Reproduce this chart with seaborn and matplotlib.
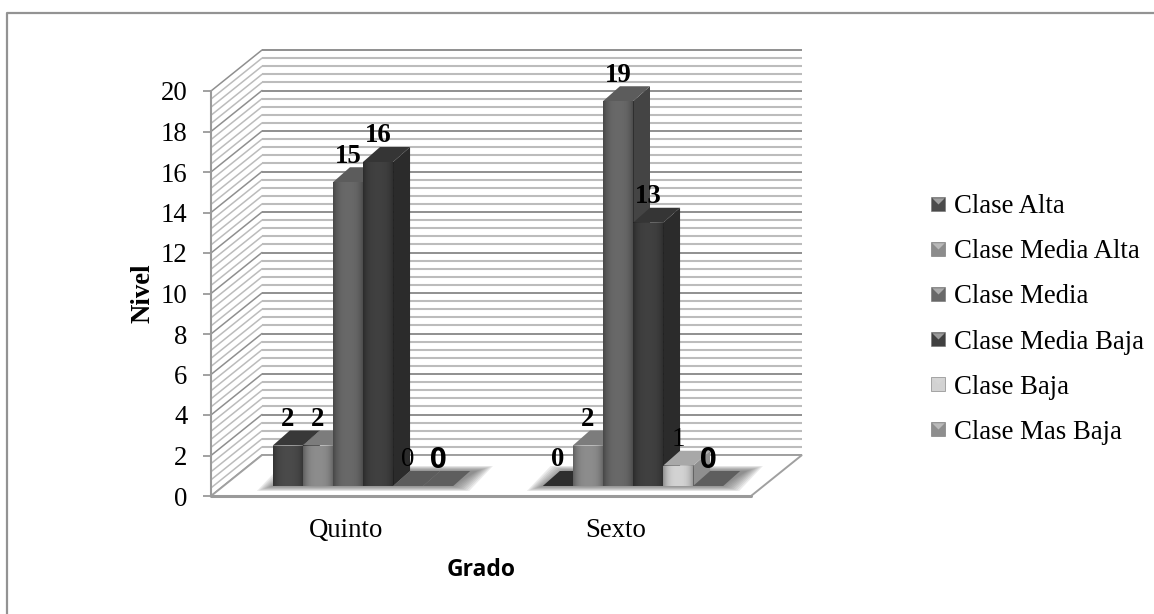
import numpy as np
import pandas as pd
import seaborn as sns
import matplotlib
matplotlib.use("Agg")
import matplotlib.pyplot as plt
from matplotlib.lines import Line2D
from matplotlib.legend_handler import HandlerTuple
from matplotlib.patches import Polygon

grades = ["Quinto", "Sexto"]
classes = ["Clase Alta", "Clase Media Alta", "Clase Media",
           "Clase Media Baja", "Clase Baja", "Clase Mas Baja"]
quinto = [2, 2, 15, 16, 0, 0]
sexto = [0, 2, 19, 13, 1, 0]
y_ticks = list(range(0, 21, 2))

front_colors = ["#4a4a4a", "#8c8c8c", "#686868", "#404040", "#d2d2d2", "#8e8e8e"]
top_colors = ["#383838", "#7c7c7c", "#5c5c5c", "#353535", "#a8a8a8", "#5e5e5e"]
side_colors = ["#333333", "#6e6e6e", "#444444", "#2b2b2b", "#8f8f8f", "#6a6a6a"]
empty_top_colors = ["#2e2e2e", "#7c7c7c", "#5c5c5c", "#353535", "#5c5c5c", "#5e5e5e"]

W, H = 1154, 614
SERIF = "Liberation Serif"
SANS = "Open Sans"
TEXT_SIZE = 19.3

sns.set_theme(style="white")
plt.rcParams["font.family"] = [SERIF, "DejaVu Sans"]

fig = plt.figure(figsize=(W / 100, H / 100), dpi=100)


def rect_from_pixels(left, right, top, bottom):
    return [left / W, 1 - bottom / H, (right - left) / W, (bottom - top) / H]


# Chart border: only the top and left edges are ruled
fig.add_artist(Line2D([6.5 / W, 6.5 / W, 1], [0, 1 - 12.5 / H, 1 - 12.5 / H],
                      transform=fig.transFigure, color="#939393", lw=1.6))

# Front plane of the box: carries the value axis and grade labels
F_L, F_R, F_T, F_B = 211, 751, 91, 496
frame = fig.add_axes(rect_from_pixels(F_L, F_R, F_T, F_B))
frame.set_xlim(-0.5, 1.5)
frame.set_ylim(0, 20)
px_x = 2 / (F_R - F_L)
px_y = 20 / (F_B - F_T)
wall_dx, wall_dy = 51 * px_x, 41 * px_y

# Back wall and side wall rules, every fifth one heavier
steps = np.arange(0, 20.01, 0.4)
for i, v in enumerate(steps):
    major = i % 5 == 0
    col = "#8f8f8f" if major else "#bcbcbc"
    lw = 1.4 if major else 1.5
    frame.plot([-0.5 + wall_dx, 1.5 + wall_dx], [v + wall_dy] * 2, color=col,
               lw=lw, clip_on=False, zorder=1, solid_capstyle="butt")
    frame.plot([-0.5, -0.5 + wall_dx], [v, v + wall_dy], color=col,
               lw=1.1, clip_on=False, zorder=1)

# Floor of the box
frame.add_patch(Polygon([(-0.5, 0), (1.5, 0), (1.5 + wall_dx, wall_dy),
                         (-0.5 + wall_dx, wall_dy)], closed=True, fc="white",
                        ec="#a0a0a0", lw=1.4, clip_on=False, zorder=2))
frame.plot([-0.5, 1.5], [0, 0], color="#9a9a9a", lw=2.2, clip_on=False, zorder=3)

frame.set_xticks([0, 1], grades)
frame.set_yticks(y_ticks)
frame.patch.set_alpha(0)
for side in ("top", "right", "bottom"):
    frame.spines[side].set_visible(False)
frame.spines["left"].set_color("#9a9a9a")
frame.spines["left"].set_linewidth(1.5)
frame.spines["left"].set_zorder(4)
frame.tick_params(axis="y", left=True, length=6, width=1.3, color="#9a9a9a",
                  labelsize=TEXT_SIZE, pad=11, labelcolor="black")
frame.tick_params(axis="x", bottom=False, labelsize=TEXT_SIZE, pad=10, labelcolor="black")
frame.set_ylabel("Nivel", fontsize=TEXT_SIZE, fontweight="bold", color="black", labelpad=4)
frame.set_xlabel("Grado", fontsize=16.5, fontweight="bold", color="black",
                 family=SANS, labelpad=11)

# Bars sit a little behind the front plane, so their axes is nudged up and right
shift_x, shift_y = 17, 10
ax = fig.add_axes(rect_from_pixels(F_L + shift_x, F_R + shift_x,
                                   F_T - shift_y, F_B - shift_y))
ax.patch.set_alpha(0)
table = pd.DataFrame({
    "Grado": np.repeat(grades, len(classes)),
    "Clase": classes * len(grades),
    "Nivel": quinto + sexto,
})
sns.barplot(data=table, x="Grado", y="Nivel", hue="Clase", hue_order=classes,
            order=grades, palette=dict(zip(classes, front_colors)), width=0.668,
            gap=0, errorbar=None, legend=False, saturation=1, ax=ax,
            linewidth=0)

depth_x, depth_y = 17 * px_x, 15 * px_y
edge_shade = np.zeros((1, 64, 4))
edge_shade[0, :, 3] = 0.32 * np.abs(np.linspace(-1, 1, 64)) ** 3

# Soft shadow on the floor below each group of bars
groups = [c.patches for c in ax.containers]
for cat in range(len(grades)):
    first = groups[0][cat]
    last = groups[-1][cat]
    x0, x1 = first.get_x(), last.get_x() + last.get_width()
    for grow in np.linspace(1, 0, 9):
        gx = grow * 16 * px_x
        gy = grow * 5 * px_y
        ax.add_patch(Polygon([(x0 - gx, -gy), (x1 + gx, -gy),
                              (x1 + depth_x * 1.4 + gx, depth_y + gy),
                              (x0 + depth_x * 1.4 - gx, depth_y + gy)],
                             closed=True, fc="#606060", ec="none", alpha=0.12,
                             clip_on=False, zorder=1))

# Side and top faces are drawn bar by bar, left to right, so nearer faces cover
for h, container in enumerate(ax.containers):
    for c, bar in enumerate(container.patches):
        x0, w, v = bar.get_x(), bar.get_width(), bar.get_height()
        z = 3 + (c * len(classes) + h) * 0.1
        bar.set_zorder(z + 0.02)
        x1 = x0 + w
        if v > 0:
            ax.add_patch(Polygon([(x1, 0), (x1 + depth_x, depth_y),
                                  (x1 + depth_x, v + depth_y), (x1, v)],
                                 closed=True, fc=side_colors[h], ec="none",
                                 clip_on=False, zorder=z))
        cap = top_colors[h] if v > 0 else empty_top_colors[h]
        ax.add_patch(Polygon([(x0, v), (x1, v), (x1 + depth_x, v + depth_y),
                              (x0 + depth_x, v + depth_y)], closed=True,
                             fc=cap, ec="none", clip_on=False, zorder=z + 0.01))
        if v > 0:
            ax.imshow(edge_shade, extent=(x0, x1, 0, v), aspect="auto",
                      zorder=z + 0.03, clip_on=False, interpolation="bilinear")

# Value labels above each bar; a few use a lighter or a sans face
label_styles = {
    (0, 4): dict(fontweight="normal"),
    (0, 5): dict(fontweight="bold", family=SANS, fontsize=21),
    (1, 4): dict(fontweight="normal"),
    (1, 5): dict(fontweight="bold", family=SANS, fontsize=21),
}
for h, container in enumerate(ax.containers):
    for c, bar in enumerate(container.patches):
        style = dict(fontsize=TEXT_SIZE, fontweight="bold")
        style.update(label_styles.get((c, h), {}))
        ax.text(bar.get_x() + bar.get_width() / 2, bar.get_height() + 26 * px_y,
                str(int(bar.get_height())), ha="center", va="center", color="black",
                zorder=20, clip_on=False, **style)

ax.set_xlim(-0.5, 1.5)
ax.set_ylim(0, 20)
ax.axis("off")

# Legend swatches are small squares with a lighter bevel along the top
bevel_shape = [(-1, 1), (1, 1), (0, 0), (-1, 1)]
swatches = []
for fc in front_colors:
    square = Line2D([], [], ls="", marker="s", ms=9.6, mfc=fc, mec="#707070", mew=0.4)
    bevel = Line2D([], [], ls="", marker=bevel_shape, ms=9, mfc="#d8d8d8", mec="none", alpha=0.6)
    swatches.append((square, bevel))
fig.legend(swatches, classes, handler_map={tuple: HandlerTuple(ndivide=1)},
           loc="center left", bbox_to_anchor=(911 / W, 1 - 319.5 / H),
           bbox_transform=fig.transFigure, frameon=False, fontsize=TEXT_SIZE,
           labelspacing=0.75, handlelength=1.0, handletextpad=0.1, borderpad=0,
           labelcolor="black")

fig.savefig("out.png", dpi=100)
